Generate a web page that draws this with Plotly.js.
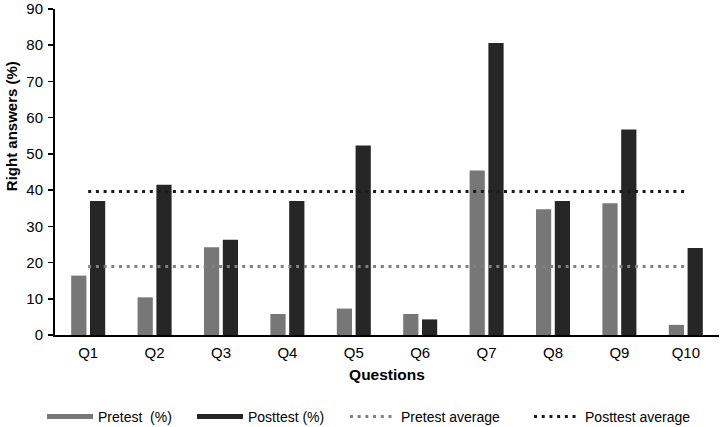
<!DOCTYPE html>
<html>
<head>
<meta charset="utf-8">
<script src="https://cdn.plot.ly/plotly-3.0.1.min.js"></script>
<style>html,body{margin:0;padding:0;background:#fff;}#chart{width:720px;height:427px;}</style>
</head>
<body>
<div id="chart"></div>
<script>
const questions = ['Q1','Q2','Q3','Q4','Q5','Q6','Q7','Q8','Q9','Q10'];
const pretest  = [16.4, 10.4, 24.2, 5.8, 7.3, 5.8, 45.4, 34.7, 36.4, 2.8];
const posttest = [37.0, 41.5, 26.3, 37.0, 52.3, 4.3, 80.6, 37.0, 56.7, 24.0];
const pretestAverage  = [18.9, 18.9, 18.9, 18.9, 18.9, 18.9, 18.9, 18.9, 18.9, 18.9];
const posttestAverage = [39.6, 39.6, 39.6, 39.6, 39.6, 39.6, 39.6, 39.6, 39.6, 39.6];
const yTicks = [0, 10, 20, 30, 40, 50, 60, 70, 80, 90];
const seriesNames = ['Pretest \u00a0(%)', 'Posttest (%)', 'Pretest average', 'Posttest average'];

const PRE = '#777777', POST = '#262626', PREAVG = '#808080', POSTAVG = '#1a1a1a';
const FONT = 'Liberation Sans, Arial, sans-serif';
const DOTS = '3px,4.7px';

const traces = [
  {type:'bar', name:seriesNames[0], x:questions, y:pretest, marker:{color:PRE}, legendgroup:'pre', showlegend:false},
  {type:'bar', name:seriesNames[1], x:questions, y:posttest, marker:{color:POST}, legendgroup:'post', showlegend:false},
  {type:'scatter', mode:'lines', name:seriesNames[2], x:questions, y:pretestAverage, line:{color:PREAVG, width:3, dash:DOTS}, showlegend:false, legendgroup:'preavg'},
  {type:'scatter', mode:'lines', name:seriesNames[3], x:questions, y:posttestAverage, line:{color:POSTAVG, width:3, dash:DOTS}, showlegend:false, legendgroup:'postavg'},
  // legend entries (wide swatches as in the reference)
  {type:'scatter', mode:'lines', name:seriesNames[0], x:[null], y:[null], line:{color:PRE, width:5}, legendgroup:'pre', legend:'legend', hoverinfo:'skip'},
  {type:'scatter', mode:'lines', name:seriesNames[1], x:[null], y:[null], line:{color:POST, width:5}, legendgroup:'post', legend:'legend2', hoverinfo:'skip'},
  {type:'scatter', mode:'lines', name:seriesNames[2], x:[null], y:[null], line:{color:PREAVG, width:3, dash:DOTS}, legendgroup:'preavg', legend:'legend3', hoverinfo:'skip'},
  {type:'scatter', mode:'lines', name:seriesNames[3], x:[null], y:[null], line:{color:POSTAVG, width:3, dash:DOTS}, legendgroup:'postavg', legend:'legend4', hoverinfo:'skip'}
];

function leg(x) {
  return {orientation:'h', x:x, xanchor:'left', y:-0.251, yanchor:'middle', itemwidth:46, font:{size:14, color:'#000'}, bgcolor:'rgba(0,0,0,0)'};
}

const layout = {
  width:720, height:427,
  margin:{l:55, r:1, t:9, b:92, autoexpand:false},
  paper_bgcolor:'#fff', plot_bgcolor:'#fff',
  font:{family:FONT, size:14, color:'#000'},
  barmode:'group', bargap:0.434, bargroupgap:0.19,
  showlegend:true,
  legend:leg(-0.0196), legend2:leg(0.2063), legend3:leg(0.4367), legend4:leg(0.7139),
  xaxis:{
    type:'category', showline:true, linewidth:2, linecolor:'#000', ticks:'', showgrid:false, zeroline:false,
    tickfont:{size:15, color:'#000'}, ticklabelstandoff:3,
    title:{text:'Questions', font:{size:15.5, weight:'bold', color:'#000'}, standoff:9},
    automargin:false, fixedrange:true
  },
  yaxis:{
    range:[0,90], tickvals:yTicks, ticks:'outside', ticklen:5, tickwidth:1.5, tickcolor:'#000',
    showline:true, linewidth:2, linecolor:'#000', showgrid:false, zeroline:false,
    tickfont:{size:15, color:'#000'}, ticklabelstandoff:2, ticklabeloverflow:'allow',
    automargin:false, fixedrange:true
  },
  annotations:[
    {text:'Right answers (%)', xref:'paper', yref:'paper', x:-0.065, y:0.64, xanchor:'center', yanchor:'middle', textangle:-90, showarrow:false, font:{size:15, weight:'bold', color:'#000'}}
  ]
};

Plotly.newPlot('chart', traces, layout, {displayModeBar:false, staticPlot:true});
</script>
</body>
</html>
